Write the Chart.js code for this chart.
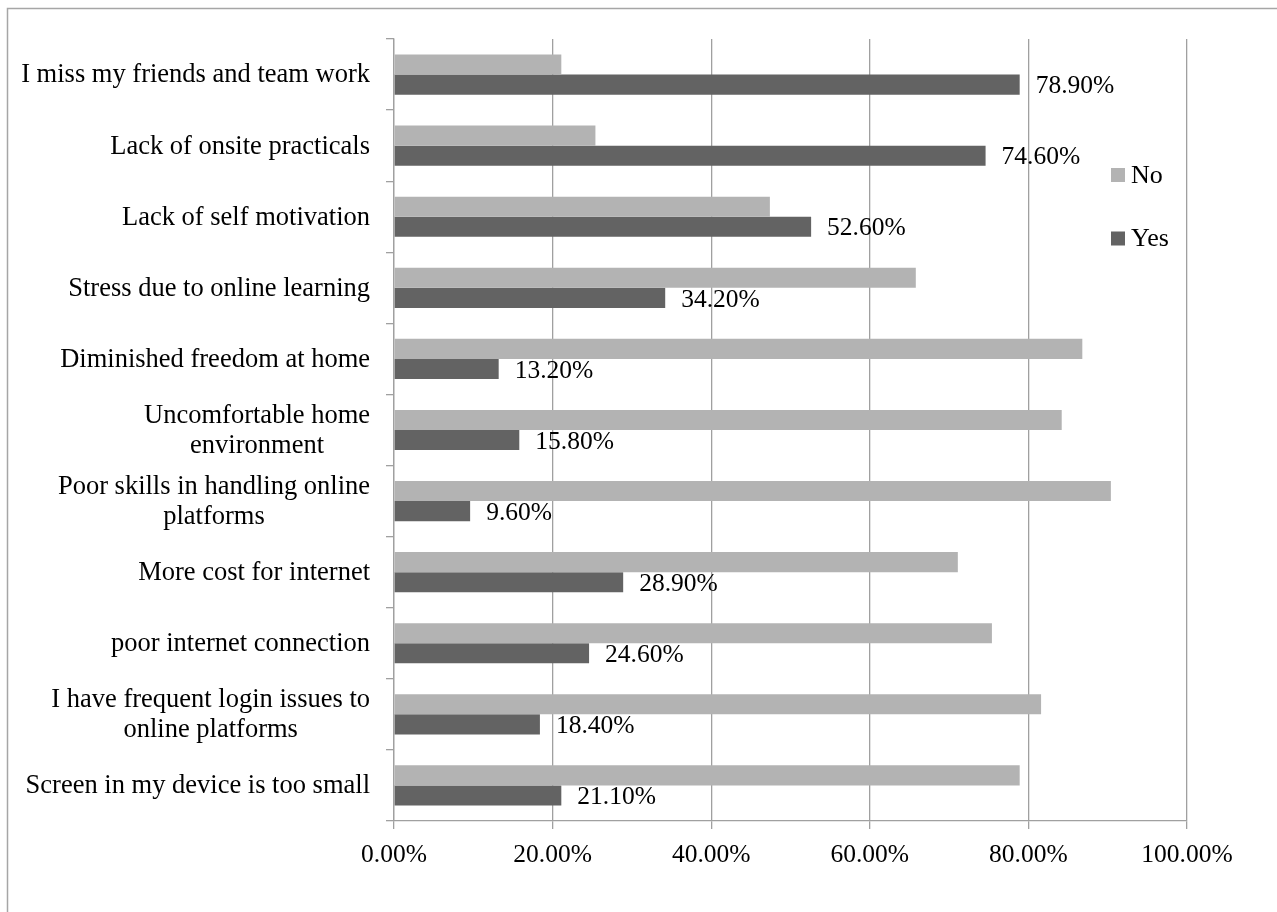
<!DOCTYPE html>
<html lang="en">
  <head>
    <meta charset="UTF-8" />
    <title>Online learning problems</title>
    <style>
      body { margin: 0; background: #fff; }
    </style>
  </head>
  <body>
    <canvas id="myChart" width="1277" height="912"></canvas>
    <script src="https://cdn.jsdelivr.net/npm/chart.js@4/dist/chart.umd.min.js"></script>
    <script>
        // data (top to bottom)
        var categories = [
            'I miss my friends and team work',
            'Lack of onsite practicals',
            'Lack of self motivation',
            'Stress due to online learning',
            'Diminished freedom at home',
            ['Uncomfortable home', 'environment'],
            ['Poor skills in handling online', 'platforms'],
            'More cost for internet',
            'poor internet connection',
            ['I have frequent login issues to', 'online platforms'],
            'Screen in my device is too small'
        ];
        var noValues  = [21.1, 25.4, 47.4, 65.8, 86.8, 84.2, 90.4, 71.1, 75.4, 81.6, 78.9];
        var yesValues = [78.9, 74.6, 52.6, 34.2, 13.2, 15.8, 9.6, 28.9, 24.6, 18.4, 21.1];
        var xTickLabels = ['0.00%', '20.00%', '40.00%', '60.00%', '80.00%', '100.00%'];

        var FONT = "'Liberation Serif', 'Times New Roman', serif";
        var GRID = '#a0a0a0';
        Chart.defaults.font.family = FONT;
        Chart.defaults.font.size = 25.5;
        Chart.defaults.color = '#000';

        // frame, category labels, value labels and legend
        var extras = {
            id: 'extras',
            beforeDraw: function (chart) {
                var c = chart.ctx;
                c.save();
                c.strokeStyle = '#a6a6a6';
                c.lineWidth = 1.5;
                c.beginPath();
                c.moveTo(7.5, 912);
                c.lineTo(7.5, 8.5);
                c.lineTo(1277, 8.5);
                c.stroke();
                c.restore();
            },
            afterDraw: function (chart) {
                var c = chart.ctx;
                var area = chart.chartArea;
                var yScale = chart.scales.y;
                c.save();
                c.fillStyle = '#000';
                c.textBaseline = 'middle';

                // y labels: block right aligned, lines centred in it
                c.font = '26.5px ' + FONT;
                var rightX = area.left - 8 - 16;
                categories.forEach(function (cat, i) {
                    var lines = Array.isArray(cat) ? cat : [cat];
                    var w = 0;
                    lines.forEach(function (l) { w = Math.max(w, c.measureText(l).width); });
                    var cx = rightX - w / 2;
                    var cy = yScale.getPixelForValue(i);
                    c.textAlign = 'center';
                    lines.forEach(function (l, k) {
                        c.fillText(l, cx, cy + (k - (lines.length - 1) / 2) * 30 + 1);
                    });
                });

                // value labels on the Yes bars
                c.font = '25.5px ' + FONT;
                var meta = chart.getDatasetMeta(1);
                c.textAlign = 'left';
                meta.data.forEach(function (bar, i) {
                    c.fillText(yesValues[i].toFixed(2) + '%', bar.x + 16, bar.y + 2);
                });

                // legend
                c.font = '26px ' + FONT;
                var ds = chart.data.datasets;
                var ly = [175, 238.5];
                ds.forEach(function (d, i) {
                    c.fillStyle = d.backgroundColor;
                    c.fillRect(1111, ly[i] - 7, 14, 14);
                    c.fillStyle = '#000';
                    c.fillText(d.label, 1131, ly[i] + 1);
                });
                c.restore();
            }
        };

        var ctx = document.getElementById('myChart').getContext('2d');
        var myChart = new Chart(ctx, {
            type: 'bar',
            data: {
                labels: categories,
                datasets: [{
                    label: 'No',
                    data: noValues,
                    backgroundColor: '#b3b3b3',
                    categoryPercentage: 0.565,
                    barPercentage: 1.0
                }, {
                    label: 'Yes',
                    data: yesValues,
                    backgroundColor: '#636363',
                    categoryPercentage: 0.565,
                    barPercentage: 1.0
                }]
            },
            options: {
                indexAxis: 'y',
                responsive: false,
                animation: false,
                devicePixelRatio: 1,
                layout: { padding: { top: 39, right: 90, bottom: 0, left: 0 } },
                plugins: {
                    legend: { display: false },
                    tooltip: { enabled: false }
                },
                scales: {
                    x: {
                        min: 0,
                        max: 100,
                        afterFit: function (s) { s.height = 91; },
                        afterBuildTicks: function (s) {
                            s.ticks = xTickLabels.map(function (t, i) { return { value: i * 20 }; });
                        },
                        ticks: {
                            padding: 11,
                            maxRotation: 0,
                            callback: function (v, i) { return xTickLabels[i]; }
                        },
                        grid: { color: GRID, lineWidth: 1.3, tickLength: 8 },
                        border: { color: GRID, width: 1.3 }
                    },
                    y: {
                        afterFit: function (s) { s.width = 394; },
                        ticks: { color: 'rgba(0,0,0,0)', padding: 16 },
                        grid: { color: GRID, lineWidth: 1.3, tickLength: 8, drawOnChartArea: false, offset: true },
                        border: { color: GRID, width: 1.3 }
                    }
                }
            },
            plugins: [extras]
        });
    </script>
  </body>
</html>
